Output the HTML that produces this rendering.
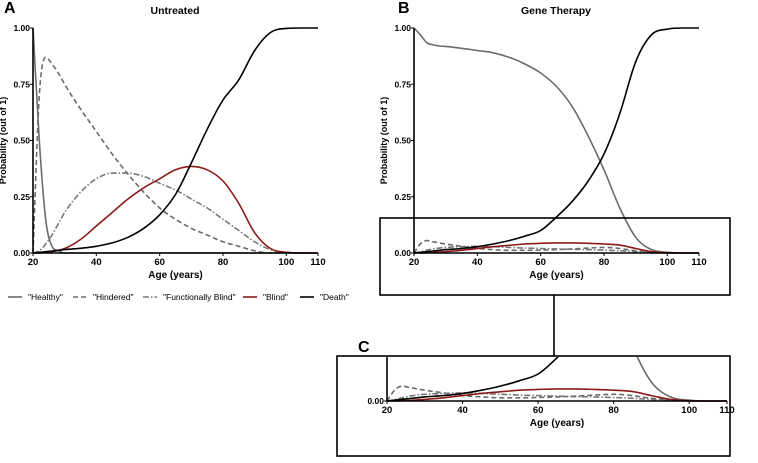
<!DOCTYPE html>
<html><head><meta charset="utf-8"><style>
body{margin:0;background:#fff;}
svg text{font-family:"Liberation Sans",Arial,sans-serif;}
</style></head><body>
<svg id="c" width="758" height="458" viewBox="0 0 758 458" xmlns="http://www.w3.org/2000/svg"></svg>
<script>
const ages=[20,22,24,26,28,30,35,40,45,50,55,60,65,70,75,80,85,90,95,100,105,110];
const aHealthy=[1,0.5,0.15,0.03,0.01,0,0,0,0,0,0,0,0,0,0,0,0,0,0,0,0,0];
const aHindered=[0,0.7,0.87,0.84,0.8,0.75,0.64,0.54,0.44,0.35,0.27,0.2,0.15,0.11,0.08,0.05,0.03,0.01,0,0,0,0];
const aFuncBlind=[0,0.01,0.04,0.08,0.13,0.18,0.27,0.33,0.355,0.355,0.34,0.31,0.28,0.24,0.2,0.15,0.1,0.05,0.015,0.003,0,0];
const aBlind=[0,0,0.002,0.006,0.012,0.02,0.06,0.12,0.18,0.24,0.29,0.33,0.37,0.385,0.37,0.32,0.22,0.09,0.02,0.003,0,0];
const aDeath=[0,0.003,0.006,0.009,0.012,0.015,0.021,0.03,0.045,0.07,0.11,0.17,0.26,0.4,0.55,0.68,0.77,0.9,0.98,0.998,1,1];
const bHealthy=[1,0.97,0.935,0.925,0.92,0.918,0.91,0.9,0.89,0.87,0.84,0.8,0.74,0.65,0.52,0.37,0.2,0.07,0.015,0.003,0,0];
const bHindered=[0,0.04,0.055,0.05,0.045,0.04,0.03,0.02,0.015,0.012,0.012,0.013,0.015,0.018,0.022,0.025,0.02,0.01,0.004,0,0,0];
const bFuncBlind=[0,0.005,0.012,0.018,0.022,0.025,0.028,0.03,0.028,0.025,0.022,0.02,0.018,0.016,0.015,0.013,0.01,0.006,0.002,0,0,0];
const bBlind=[0,0,0.001,0.002,0.004,0.006,0.012,0.02,0.028,0.034,0.04,0.043,0.045,0.045,0.043,0.04,0.035,0.02,0.006,0.001,0,0];
const bDeath=[0,0.003,0.006,0.009,0.012,0.015,0.02,0.028,0.04,0.055,0.075,0.1,0.16,0.23,0.32,0.44,0.62,0.85,0.97,0.995,1,1];
const xTicks=[20,40,60,80,100,110];
const yTicks=[0,0.25,0.5,0.75,1];
const seriesNames=['"Healthy"','"Hindered"','"Functionally Blind"','"Blind"','"Death"'];
const NS="http://www.w3.org/2000/svg";
const svg=document.getElementById('c');
function mk(tag,attrs,parent){const e=document.createElementNS(NS,tag);for(const k in attrs)e.setAttribute(k,attrs[k]);(parent||svg).appendChild(e);return e;}
const styles=[
 {stroke:'#6b6b6b',dash:''},
 {stroke:'#6b6b6b',dash:'5,3'},
 {stroke:'#777',dash:'6,2,1.5,2'},
 {stroke:'#8b1a1a',dash:''},
 {stroke:'#000',dash:''}];
function monoPath(xs,ys){
  const n=xs.length,d=[],m=[];
  for(let i=0;i<n-1;i++)d.push((ys[i+1]-ys[i])/(xs[i+1]-xs[i]));
  for(let i=0;i<n;i++){
    if(i===0)m.push(d[0]);else if(i===n-1)m.push(d[n-2]);
    else m.push(d[i-1]*d[i]<=0?0:(d[i-1]+d[i])/2);
  }
  for(let i=0;i<n-1;i++){
    if(d[i]===0){m[i]=0;m[i+1]=0;continue;}
    const a=m[i]/d[i],b=m[i+1]/d[i],s=a*a+b*b;
    if(s>9){const t=3/Math.sqrt(s);m[i]=t*a*d[i];m[i+1]=t*b*d[i];}
  }
  let p='M'+xs[0].toFixed(1)+','+ys[0].toFixed(1);
  for(let i=0;i<n-1;i++){
    const h=xs[i+1]-xs[i];
    p+='C'+(xs[i]+h/3).toFixed(1)+','+(ys[i]+m[i]*h/3).toFixed(1)+' '+(xs[i+1]-h/3).toFixed(1)+','+(ys[i+1]-m[i+1]*h/3).toFixed(1)+' '+xs[i+1].toFixed(1)+','+ys[i+1].toFixed(1);
  }
  return p;
}
function panel(name,x0,x1,y0,yScale,data,showY,clipRect){
  const g=mk('g',{});
  
  
  const sx=a=>x0+(a-20)*(x1-x0)/90;
  const sy=v=>y0-v*yScale;
  let cp=null;
  if(clipRect){cp=name+'-clip';const c=mk('clipPath',{id:cp},g);mk('rect',clipRect,c);}
  const sg=mk('g',cp?{'clip-path':'url(#'+cp+')'}:{},g);
  data.forEach((vals,i)=>{
    const p=mk('path',{d:monoPath(ages.map(sx),vals.map(sy)),fill:'none',stroke:styles[i].stroke,'stroke-width':1.6,'stroke-dasharray':styles[i].dash,'stroke-linejoin':'round'},sg);
    
    
  });
  const ax=mk('line',{x1:x0,x2:x1,y1:y0,y2:y0,stroke:'#000','stroke-width':1.6},g);
  
  
  xTicks.forEach(t=>{
    mk('line',{x1:sx(t),x2:sx(t),y1:y0,y2:y0+3,stroke:'#000'},g);
    const tx=mk('text',{x:sx(t),y:y0+12,'font-size':9.5,'font-weight':'bold','text-anchor':'middle'},g);tx.textContent=t;
    
    
  });
  const xl=mk('text',{x:(x0+x1)/2,y:y0+25,'font-size':10,'font-weight':'bold','text-anchor':'middle'},g);xl.textContent='Age (years)';
  
  
  const yt=showY?yTicks:[0];
  const ytop=showY?sy(1):(clipRect?clipRect.y:y0);
  mk('line',{x1:x0,x2:x0,y1:ytop,y2:y0,stroke:'#000','stroke-width':1.6},g);
  yt.forEach(t=>{
    mk('line',{x1:x0-3,x2:x0,y1:sy(t),y2:sy(t),stroke:'#000'},g);
    const tx=mk('text',{x:x0-3,y:sy(t)+3.2,'font-size':8.5,'font-weight':'bold','text-anchor':'end'},g);tx.textContent=t.toFixed(2);
    
    
  });
  if(showY){
    const yl=mk('text',{x:0,y:0,'font-size':9,'font-weight':'bold','text-anchor':'middle',transform:`translate(${x0-27},${(sy(1)+y0)/2}) rotate(-90)`},g);yl.textContent='Probability  (out of 1)';
    
    
  }
}
panel('panel-a',33,318,253,225,[aHealthy,aHindered,aFuncBlind,aBlind,aDeath],true,null);
panel('panel-b',414,699,253,225,[bHealthy,bHindered,bFuncBlind,bBlind,bDeath],true,null);
panel('panel-c',387,727,401,270,[bHealthy,bHindered,bFuncBlind,bBlind,bDeath],false,{x:337,y:357,width:393,height:98});
[['A',4,13,16],['B',398,13,16],['C',358,352,16]].forEach(l=>{const t=mk('text',{x:l[1],y:l[2],'font-size':l[3],'font-weight':'bold'});t.textContent=l[0];
  
  });
[['Untreated',175],['Gene Therapy',556]].forEach(l=>{const t=mk('text',{x:l[1],y:14,'font-size':10.5,'font-weight':'bold','text-anchor':'middle'});t.textContent=l[0];
  
  });
const zb=mk('rect',{x:380,y:218,width:350,height:77,fill:'none',stroke:'#000','stroke-width':1.6});


mk('line',{x1:554,x2:554,y1:295,y2:356,stroke:'#000','stroke-width':1.6});
const cb=mk('rect',{x:337,y:356,width:393,height:100,fill:'none',stroke:'#000','stroke-width':1.6});


const legX=[8,73,143,243,300];
seriesNames.forEach((n,i)=>{
  const g=mk('g',{});
  
  
  mk('line',{x1:legX[i],x2:legX[i]+14,y1:297,y2:297,stroke:styles[i].stroke,'stroke-width':1.6,'stroke-dasharray':styles[i].dash},g);
  const t=mk('text',{x:legX[i]+20,y:300,'font-size':8.5},g);t.textContent=n;
});
</script>
</body></html>
